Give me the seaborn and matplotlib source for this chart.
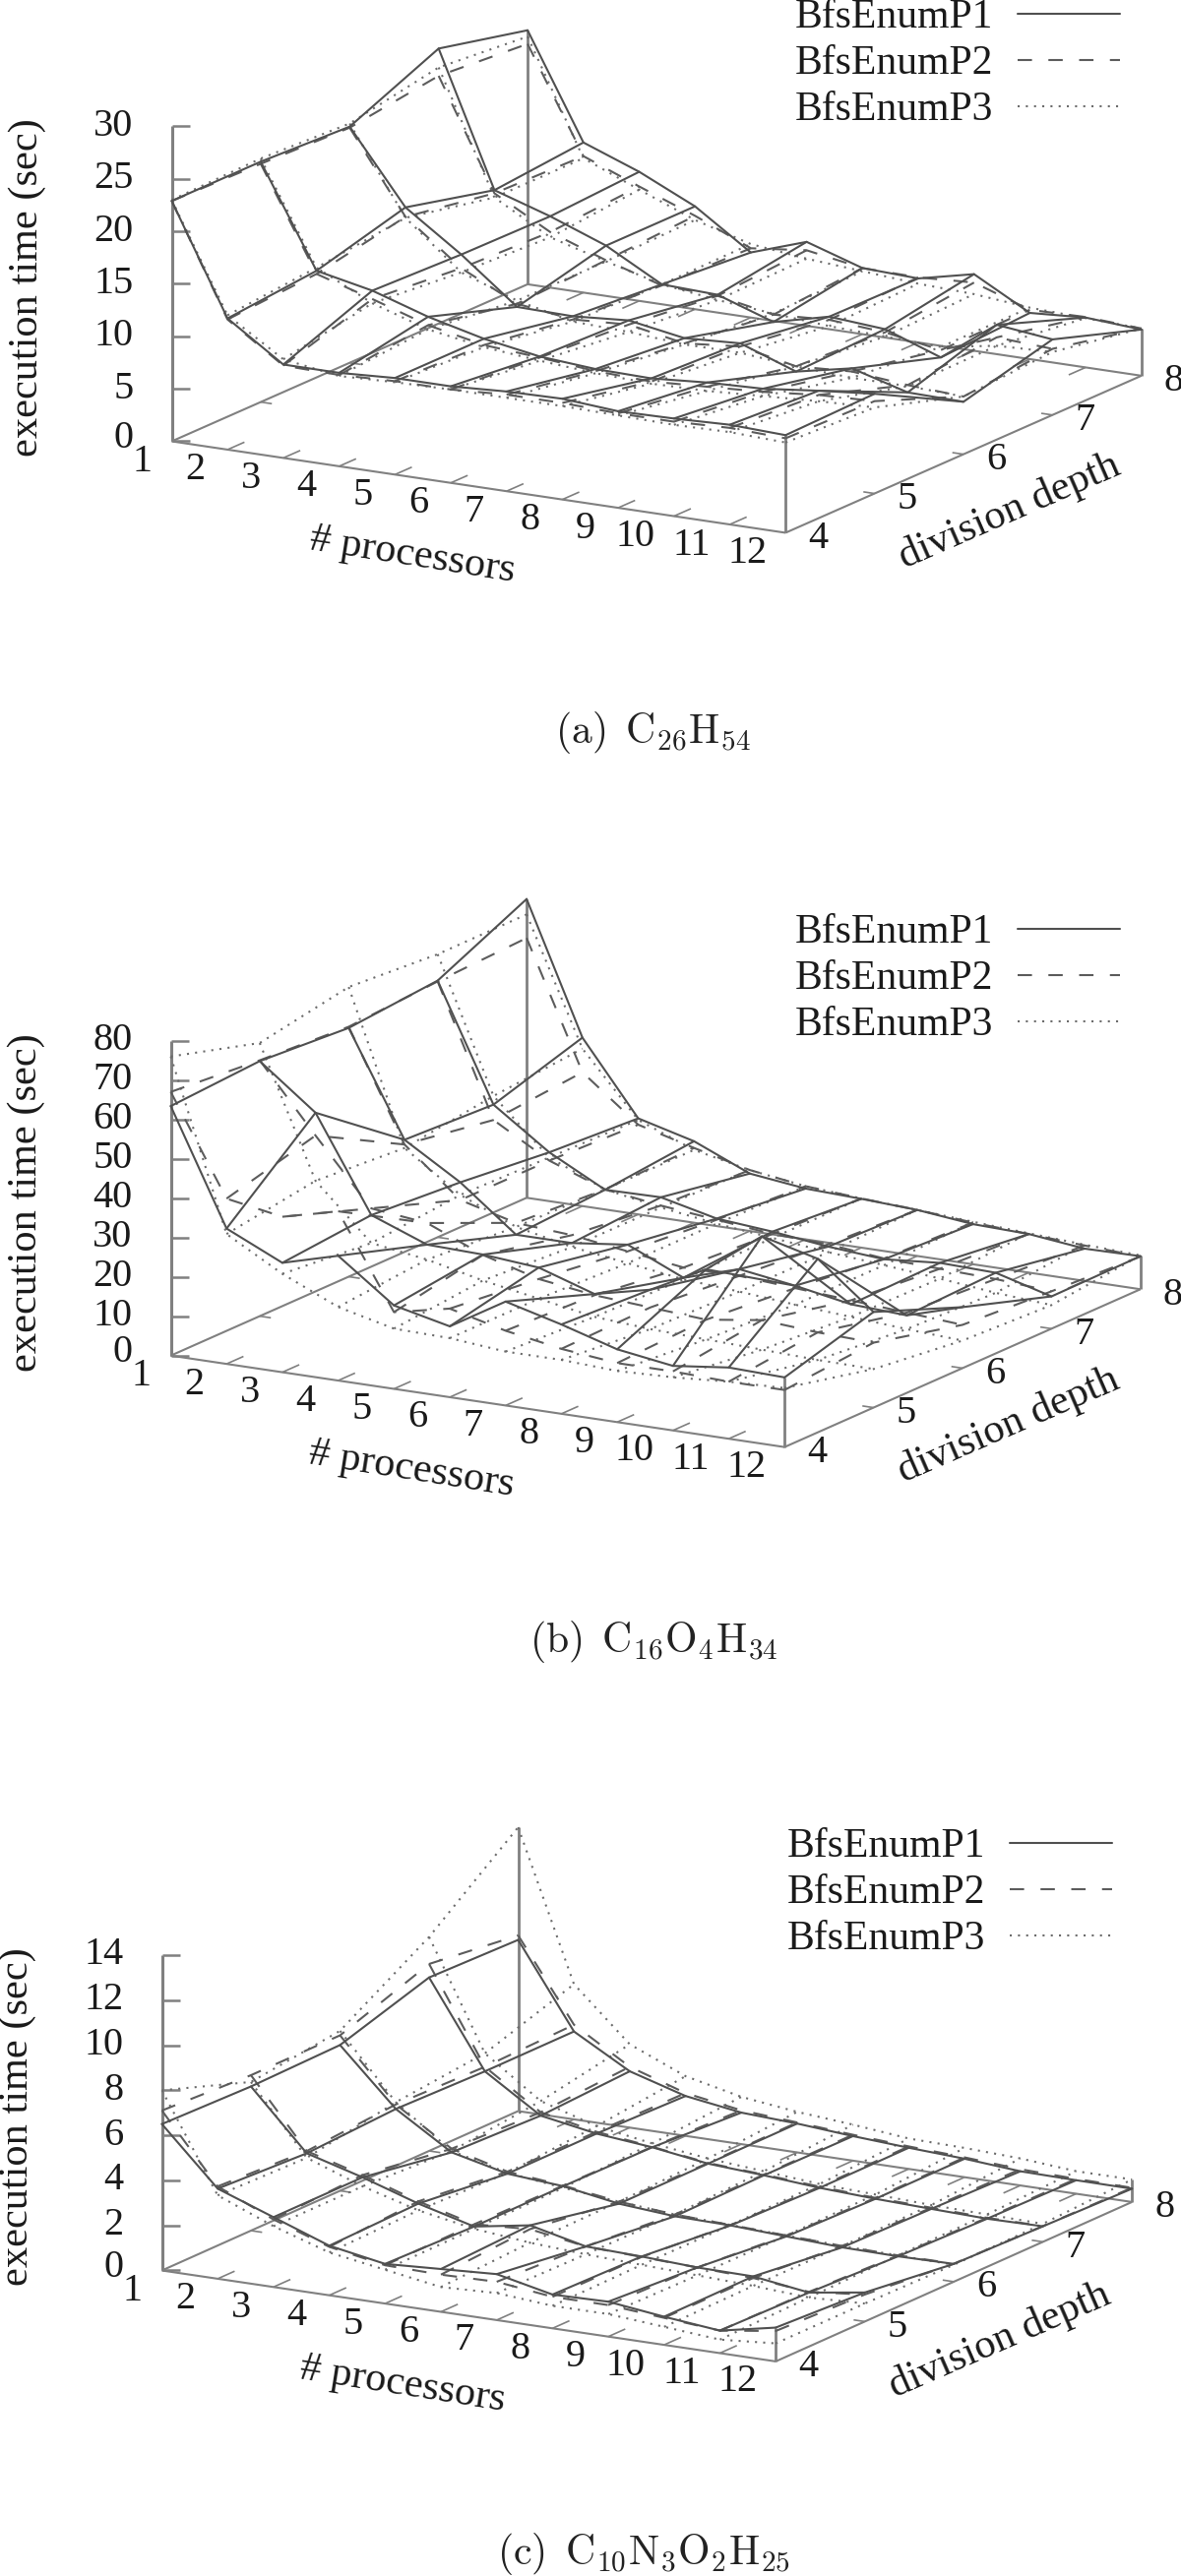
import numpy as np
import pandas as pd
import seaborn as sns
import matplotlib
matplotlib.use("Agg")
import matplotlib.pyplot as plt
from matplotlib.lines import Line2D

sns.set_theme(style="white")
plt.rcParams['font.family'] = ['Liberation Serif', 'DejaVu Serif']
plt.rcParams['mathtext.fontset'] = 'cm'

PROCESSORS = list(range(1, 13))
DEPTHS = [4, 5, 6, 7, 8]
SERIES = ["BfsEnumP1", "BfsEnumP2", "BfsEnumP3"]

# each table: rows are division depth 4..8, columns are processors 1..12
A_P1 = [[22.9, 12.5, 8.9, 8.9, 9.2, 9.2, 9.5, 9.6, 9.2, 9.3, 9.5, 9.3],
        [22.9, 13.3, 12.2, 10.5, 9.2, 8.3, 7.9, 7.8, 8.2, 8.4, 9.0, 9.5],
        [22.5, 15.6, 11.9, 7.7, 7.6, 8.0, 7.1, 7.4, 5.5, 6.6, 5.1, 5.0],
        [26.2, 13.5, 11.8, 9.8, 6.9, 6.7, 4.9, 6.2, 5.8, 3.9, 7.8, 7.2],
        [24.2, 14.3, 12.3, 9.8, 6.2, 8.0, 6.3, 6.1, 7.3, 4.4, 4.75, 4.4]]
A_P2 = [[22.9, 12.4, 8.8, 8.7, 8.9, 8.9, 9.2, 9.2, 9.0, 9.0, 9.2, 9.0],
        [22.7, 13.0, 11.4, 9.7, 8.6, 8.2, 7.7, 7.5, 7.8, 8.1, 8.6, 8.8],
        [22.4, 14.7, 10.6, 8.0, 7.3, 7.6, 6.6, 7.1, 6.0, 6.3, 5.8, 5.5],
        [23.6, 13.2, 10.3, 8.4, 6.8, 6.6, 5.6, 5.9, 5.5, 4.6, 6.6, 6.3],
        [22.9, 13.0, 10.9, 8.9, 6.6, 7.2, 6.3, 6.2, 6.5, 4.7, 4.8, 4.5]]
A_P3 = [[23.0, 12.8, 9.4, 8.6, 8.8, 8.9, 8.9, 8.9, 8.8, 8.7, 8.8, 8.6],
        [23.2, 13.6, 11.0, 9.3, 8.4, 7.9, 7.5, 7.3, 7.4, 7.7, 8.0, 8.2],
        [22.8, 14.6, 10.2, 8.3, 7.1, 6.9, 6.5, 6.5, 6.0, 5.7, 5.7, 5.5],
        [24.4, 12.8, 9.8, 8.3, 6.9, 6.2, 5.7, 5.3, 5.1, 4.9, 5.8, 6.0],
        [23.6, 12.8, 10.6, 8.5, 7.0, 6.4, 6.0, 5.6, 5.4, 4.9, 4.7, 4.5]]

B_P1 = [[63.4, 34.4, 27.8, 31.7, 21.2, 18.0, 26.4, 22.7, 18.5, 16.4, 18.1, 17.7],
        [64.8, 53.8, 29.9, 24.5, 24.1, 22.9, 18.3, 21.5, 28.8, 39.3, 35.7, 24.3],
        [63.2, 36.9, 28.2, 17.0, 17.0, 18.7, 12.4, 16.7, 14.6, 12.0, 11.3, 15.5],
        [65.2, 35.8, 25.8, 18.4, 18.6, 15.3, 14.1, 12.4, 11.3, 12.5, 12.1, 8.2],
        [75.9, 42.8, 24.4, 20.7, 14.6, 12.9, 12.4, 11.7, 10.2, 9.8, 8.2, 8.4]]
B_P2 = [[67, 42, 39.5, 43, 19.5, 22.5, 19, 16.5, 15, 15, 14.5, 14.5],
        [65, 48, 31.6, 30, 24, 20, 18, 17, 16, 18, 17, 16.5],
        [63.5, 35.7, 23.7, 20, 19, 17, 15, 15, 14, 13, 12, 11],
        [65, 31.9, 23.7, 18.5, 16.5, 15, 13.5, 13, 11.5, 11, 10.5, 9.5],
        [66, 34, 22.8, 19, 15.5, 13.5, 12.5, 11.7, 10.6, 9.8, 9, 8.3]]
B_P3 = [[76, 33, 25, 18.7, 15.3, 15, 13.7, 13.7, 13, 13.5, 14.5, 15],
        [69.4, 36.5, 22.8, 20.7, 17.5, 15, 12.5, 11.5, 11, 10.5, 10, 9.8],
        [73.6, 34.8, 25, 19, 16, 14, 12, 11, 9.8, 8.8, 7.8, 7],
        [71.9, 38, 24.5, 18.5, 16, 14, 12.5, 11, 9.8, 8.5, 7, 6],
        [72, 40, 24, 18.5, 15.5, 13.5, 12.5, 11.7, 10.8, 10, 9.2, 8.6]]

C_P1 = [[6.5, 4.0, 3.1, 2.2, 1.76, 1.9, 2.04, 1.5, 1.55, 1.25, 1.0, 1.5],
        [6.4, 3.8, 3.1, 2.3, 1.65, 2.07, 1.5, 1.42, 1.3, 1.27, 0.92, 1.29],
        [6.47, 4.0, 2.44, 1.86, 1.67, 1.26, 1.07, 1.03, 0.91, 0.79, 0.76, 0.79],
        [7.7, 3.9, 2.3, 1.87, 1.63, 1.27, 1.12, 0.93, 0.81, 0.73, 0.66, 0.69],
        [7.6, 3.9, 2.5, 1.77, 1.4, 1.28, 1.09, 0.94, 0.82, 0.63, 0.6, 0.59]]
C_P2 = [[7.1, 4.1, 3.0, 2.15, 1.7, 1.65, 1.7, 1.4, 1.4, 1.2, 1.0, 1.35],
        [6.9, 3.9, 3.2, 2.4, 1.75, 1.9, 1.5, 1.4, 1.3, 1.2, 0.95, 1.2],
        [6.9, 4.2, 2.6, 1.95, 1.7, 1.35, 1.15, 1.05, 0.95, 0.85, 0.8, 0.8],
        [8.3, 4.1, 2.45, 1.95, 1.65, 1.3, 1.15, 0.98, 0.85, 0.78, 0.7, 0.7],
        [7.8, 4.2, 2.7, 1.9, 1.5, 1.33, 1.15, 1.0, 0.88, 0.72, 0.66, 0.63]]
C_P3 = [[8.0, 3.7, 2.7, 1.9, 1.5, 1.1, 1.2, 1.0, 1.0, 0.8, 0.6, 0.8],
        [6.6, 3.6, 2.7, 2.0, 1.55, 1.3, 1.15, 1.05, 0.95, 0.85, 0.7, 0.8],
        [7.1, 4.3, 2.5, 1.9, 1.6, 1.35, 1.15, 1.05, 0.95, 0.85, 0.8, 0.75],
        [9.5, 4.7, 2.95, 2.2, 1.8, 1.5, 1.3, 1.1, 1.0, 0.9, 0.85, 0.8],
        [12.6, 6.0, 3.7, 2.65, 2.1, 1.8, 1.6, 1.35, 1.3, 1.2, 1.0, 1.0]]

Z_TICKS_A = [0, 5, 10, 15, 20, 25, 30]
Z_TICKS_B = [0, 10, 20, 30, 40, 50, 60, 70, 80]
Z_TICKS_C = [0, 2, 4, 6, 8, 10, 12, 14]

CAPTION_A = r'$\mathrm{(a)\ \,C_{26}H_{54}}$'
CAPTION_B = r'$\mathrm{(b)\ \,C_{16}O_{4}H_{34}}$'
CAPTION_C = r'$\mathrm{(c)\ \,C_{10}N_{3}O_{2}H_{25}}$'

DASHES = {"BfsEnumP1": "", "BfsEnumP2": (7, 8), "BfsEnumP3": (1, 3)}
COLORS = {"BfsEnumP1": "#505050", "BfsEnumP2": "#5c5c5c", "BfsEnumP3": "#6c6c6c"}
AXIS = "#808080"
LW = 1.5
FS = 29
FS_LABEL = 30.5
FS_LEGEND = 30

W, H = 1200, 2618
fig = plt.figure(figsize=(W / 100, H / 100), dpi=100, facecolor="white")

PANELS = [
    dict(band=(0, 840), origin=(174.5, 448.5), pv=(56.7, 8.45), dv=(90.4, -39.9), top=128.5,
         tables=(A_P1, A_P2, A_P3), zticks=Z_TICKS_A, caption=CAPTION_A, capxy=(663, 744),
         legend=(1138, 16)),
    dict(band=(840, 1730), origin=(173.5, 1377.7), pv=(56.7, 8.45), dv=(90.4, -40.1), top=1057.7,
         tables=(B_P1, B_P2, B_P3), zticks=Z_TICKS_B, caption=CAPTION_B, capxy=(664, 1668),
         legend=(1138, 946)),
    dict(band=(1730, 2618), origin=(164.5, 2307.5), pv=(56.7, 8.4), dv=(90.5, -40.5), top=1987,
         tables=(C_P1, C_P2, C_P3), zticks=Z_TICKS_C, caption=CAPTION_C, capxy=(654, 2596),
         legend=(1130, 1875)),
]


def draw_panel(cfg):
    y0, y1 = cfg["band"]
    ax = fig.add_axes([0, 1 - y1 / H, 1, (y1 - y0) / H])
    ox, oy = cfg["origin"]
    pv, dv = cfg["pv"], cfg["dv"]
    zticks = cfg["zticks"]
    zscale = (oy - cfg["top"]) / zticks[-1]

    def proj(p, d, z=0.0):
        return (ox + pv[0] * (p - 1) + dv[0] * (d - 4),
                oy + pv[1] * (p - 1) + dv[1] * (d - 4) - zscale * z)

    # wireframes
    rows = []
    for name, table in zip(SERIES, cfg["tables"]):
        t = np.asarray(table, float)
        for i, d in enumerate(DEPTHS):
            for j, p in enumerate(PROCESSORS):
                sx, sy = proj(p, d, t[i, j])
                rows.append((name, f"d{d}", j, sx, sy))
        for j, p in enumerate(PROCESSORS):
            for i, d in enumerate(DEPTHS):
                sx, sy = proj(p, d, t[i, j])
                rows.append((name, f"p{p}", i, sx, sy))
    df = pd.DataFrame(rows, columns=["series", "grid", "k", "sx", "sy"])
    df["line"] = df["series"] + df["grid"]
    sns.lineplot(data=df, x="sx", y="sy", hue="series", style="series", units="line",
                 estimator=None, sort=False, palette=COLORS, dashes=DASHES,
                 hue_order=SERIES[::-1], style_order=SERIES[::-1],
                 linewidth=LW, legend=False, ax=ax, zorder=3)
    ax.set_xlim(0, W)
    ax.set_ylim(y1, y0)
    ax.axis("off")

    # box
    def seg(a, b, lw=1.5, c=AXIS):
        ax.plot([a[0], b[0]], [a[1], b[1]], color=c, lw=lw, solid_capstyle="butt", zorder=2)

    seg(proj(1, 4), proj(12, 4))
    seg(proj(12, 4), proj(12, 8))
    seg(proj(1, 4), proj(1, 8))
    seg(proj(1, 8), proj(12, 8))
    seg(proj(1, 4), proj(1, 4, zticks[-1]), lw=2.2)
    stack = np.asarray(cfg["tables"], float)
    for p, d in [(12, 4), (12, 8), (1, 8)]:
        i, j = DEPTHS.index(d), PROCESSORS.index(p)
        seg(proj(p, d), proj(p, d, stack[:, i, j].max()), lw=2.0)

    # ticks
    for z in zticks:
        a = proj(1, 4, z)
        seg(a, (a[0] + 18, a[1]), lw=1.8)
        ax.text(a[0] - 39, a[1] - (3 if z == 0 else 0), str(z), ha="right", va="center",
                fontsize=FS, color="#1a1a1a")
    for p in PROCESSORS:
        a = proj(p, 4)
        if 1 < p < 12:
            seg(a, (a[0] + 0.19 * dv[0], a[1] + 0.19 * dv[1]), lw=1.2)
            b = proj(p, 8)
            seg(b, (b[0] - 0.19 * dv[0], b[1] - 0.19 * dv[1]), lw=1.2)
        off = -30 if p == 1 else (-33 if p < 10 else -39)
        ax.text(a[0] + off, a[1] + 21, str(p), ha="center", va="center", fontsize=FS, color="#1a1a1a")
    for d in DEPTHS:
        a = proj(12, d)
        if 4 < d < 8:
            seg(a, (a[0] - 0.2 * pv[0], a[1] - 0.2 * pv[1]), lw=1.2)
            b = proj(1, d)
            seg(b, (b[0] + 0.2 * pv[0], b[1] + 0.2 * pv[1]), lw=1.2)
        ax.text(a[0] + 33, a[1] + 6, str(d), ha="center", va="center",
                fontsize=FS, color="#1a1a1a")

    # axis titles
    ax.text(ox - 147, oy - 156, "execution time (sec)", rotation=90, ha="center", va="center",
            fontsize=FS_LABEL, color="#1a1a1a")
    ax.text(ox + 245, oy + 116, "# processors", rotation=-9, ha="center", va="center",
            rotation_mode="anchor", fontsize=FS_LABEL, color="#1a1a1a")
    ax.text(ox + 851, oy + 71, "division depth", rotation=23.6, ha="center", va="center",
            rotation_mode="anchor", fontsize=FS_LABEL, color="#1a1a1a")

    # caption
    ax.text(cfg["capxy"][0], cfg["capxy"][1], cfg["caption"], ha="center", va="center",
            fontsize=30, color="#222222")

    # legend
    handles = [Line2D([], [], color=COLORS[s], lw=LW,
                      dashes=DASHES[s] if DASHES[s] else (None, None)) for s in SERIES]
    lx, ly = cfg["legend"]
    ax.legend(handles, SERIES, loc="upper right", bbox_to_anchor=(lx, ly - 17),
              bbox_transform=ax.transData, frameon=False, markerfirst=False,
              fontsize=FS_LEGEND, handlelength=2.5, handletextpad=0.6, labelspacing=0.2,
              borderpad=0, borderaxespad=0, labelcolor="#1a1a1a")


for cfg in PANELS:
    draw_panel(cfg)

fig.savefig("out.png", dpi=100, facecolor="white")
